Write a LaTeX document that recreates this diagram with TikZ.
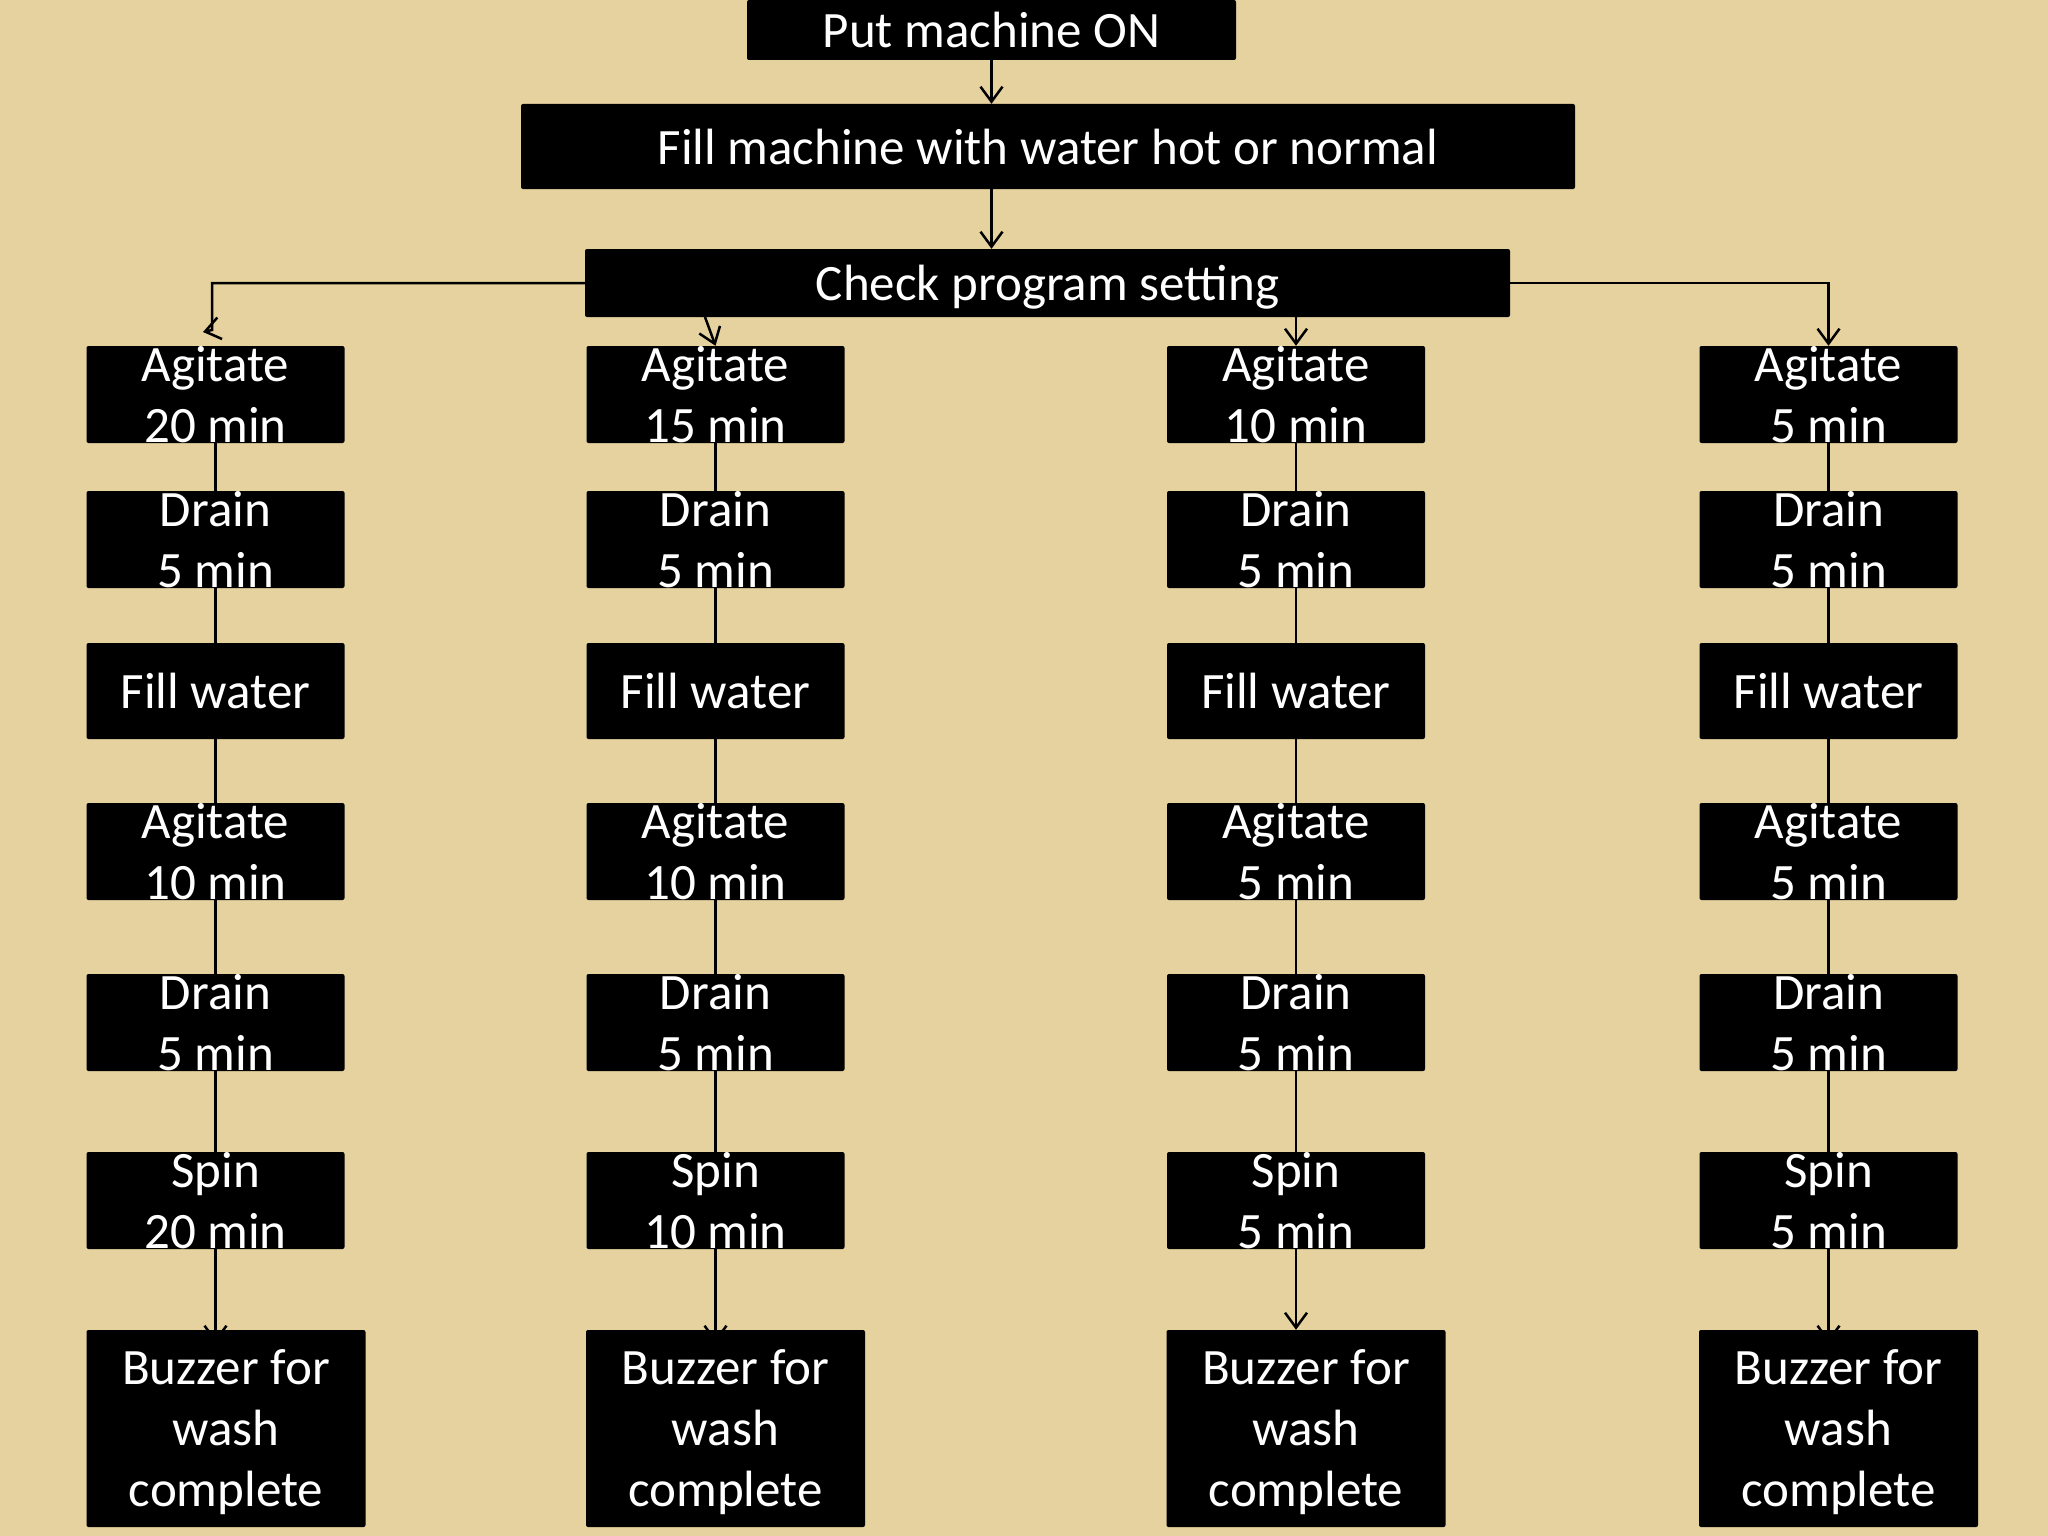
\documentclass[tikz,border=0pt]{standalone}
\usepackage{fontspec}
\setmainfont{Carlito}
\usetikzlibrary{arrows.meta,backgrounds}
\definecolor{parch}{RGB}{229,210,158}
\tikzset{
  box/.style={fill=black, rounded corners=2pt, inner sep=0pt, text=white,
    font=\fontsize{51}{61}\selectfont, align=center},
  colbox/.style={box, minimum width=258pt, minimum height=97pt},
  buzbox/.style={box, minimum width=279pt, minimum height=197pt, text depth=0pt},
  conn/.style={line width=2.5pt, black},
  arr/.style={conn, -{Straight Barb[length=15pt,width=22pt,line width=2.5pt]}}
}
\begin{document}
\begin{tikzpicture}[x=1pt,y=-1pt]
\useasboundingbox (0,0) rectangle (2048,1536);
\begin{scope}[on background layer]
\fill[parch] (0,0) rectangle (2048,1536);
\end{scope}

% top
\node[box, minimum width=489pt, minimum height=60pt, text depth=0pt] (put) at (991.5,30) {Put machine ON};
\node[box, minimum width=1054pt, minimum height=85pt, text depth=0pt] (fill) at (1048,146.5) {Fill machine with water hot or normal};
\node[box, minimum width=925pt, minimum height=68pt, text depth=0pt] (check) at (1047.5,283) {Check program setting};

% column 1
\node[colbox] (a1) at (215.5,394.5) {Agitate\\20 min};
\node[colbox] (d1) at (215.5,539.5) {Drain\\5 min};
\node[colbox, minimum height=96pt, text depth=0pt] (f1) at (215.5,691) {Fill water};
\node[colbox] (g1) at (215.5,851.5) {Agitate\\10 min};
\node[colbox] (e1) at (215.5,1022.5) {Drain\\5 min};
\node[colbox] (s1) at (215.5,1200.5) {Spin\\20 min};
\node[buzbox] (b1) at (226,1428.5) {Buzzer for\\wash\\complete};

% column 2
\node[colbox] (a2) at (715.5,394.5) {Agitate\\15 min};
\node[colbox] (d2) at (715.5,539.5) {Drain\\5 min};
\node[colbox, minimum height=96pt, text depth=0pt] (f2) at (715.5,691) {Fill water};
\node[colbox] (g2) at (715.5,851.5) {Agitate\\10 min};
\node[colbox] (e2) at (715.5,1022.5) {Drain\\5 min};
\node[colbox] (s2) at (715.5,1200.5) {Spin\\10 min};
\node[buzbox] (b2) at (725.5,1428.5) {Buzzer for\\wash\\complete};

% column 3
\node[colbox] (a3) at (1296,394.5) {Agitate\\10 min};
\node[colbox] (d3) at (1296,539.5) {Drain\\5 min};
\node[colbox, minimum height=96pt, text depth=0pt] (f3) at (1296,691) {Fill water};
\node[colbox] (g3) at (1296,851.5) {Agitate\\5 min};
\node[colbox] (e3) at (1296,1022.5) {Drain\\5 min};
\node[colbox] (s3) at (1296,1200.5) {Spin\\5 min};
\node[buzbox] (b3) at (1306,1428.5) {Buzzer for\\wash\\complete};

% column 4
\node[colbox] (a4) at (1828.5,394.5) {Agitate\\5 min};
\node[colbox] (d4) at (1828.5,539.5) {Drain\\5 min};
\node[colbox, minimum height=96pt, text depth=0pt] (f4) at (1828.5,691) {Fill water};
\node[colbox] (g4) at (1828.5,851.5) {Agitate\\5 min};
\node[colbox] (e4) at (1828.5,1022.5) {Drain\\5 min};
\node[colbox] (s4) at (1828.5,1200.5) {Spin\\5 min};
\node[buzbox] (b4) at (1838.5,1428.5) {Buzzer for\\wash\\complete};

% top connectors
\draw[arr] (put.south) -- (put.south |- fill.north);
\draw[arr] (put.south |- fill.south) -- (put.south |- check.north);

% branches
\coordinate (c1a) at (212,330);
\coordinate (c1tip) at (203,332);
\draw[arr] (check.west) -| (c1a) -- (c1tip);
\coordinate (c2s) at (705,317);
\draw[arr] (c2s) -- (a2.north);
\draw[arr] (check.south -| a3.north) -- (a3.north);
\draw[arr] (check.east) -| (a4.north);

% column lines
\foreach \c in {1,2,3,4}{
  \draw[conn] (a\c.south) -- (d\c.north);
  \draw[conn] (d\c.south) -- (f\c.north);
  \draw[conn] (f\c.south) -- (g\c.north);
  \draw[conn] (g\c.south) -- (e\c.north);
  \draw[conn] (e\c.south) -- (s\c.north);
}
\draw[arr] (s3.south) -- (s3.south |- b3.north);
\begin{scope}[on background layer]
\foreach \c in {1,2,4}{
  \draw[arr] (s\c.south) -- ([yshift=-13pt]s\c.south |- b\c.north);
}
\end{scope}
\end{tikzpicture}
\end{document}
